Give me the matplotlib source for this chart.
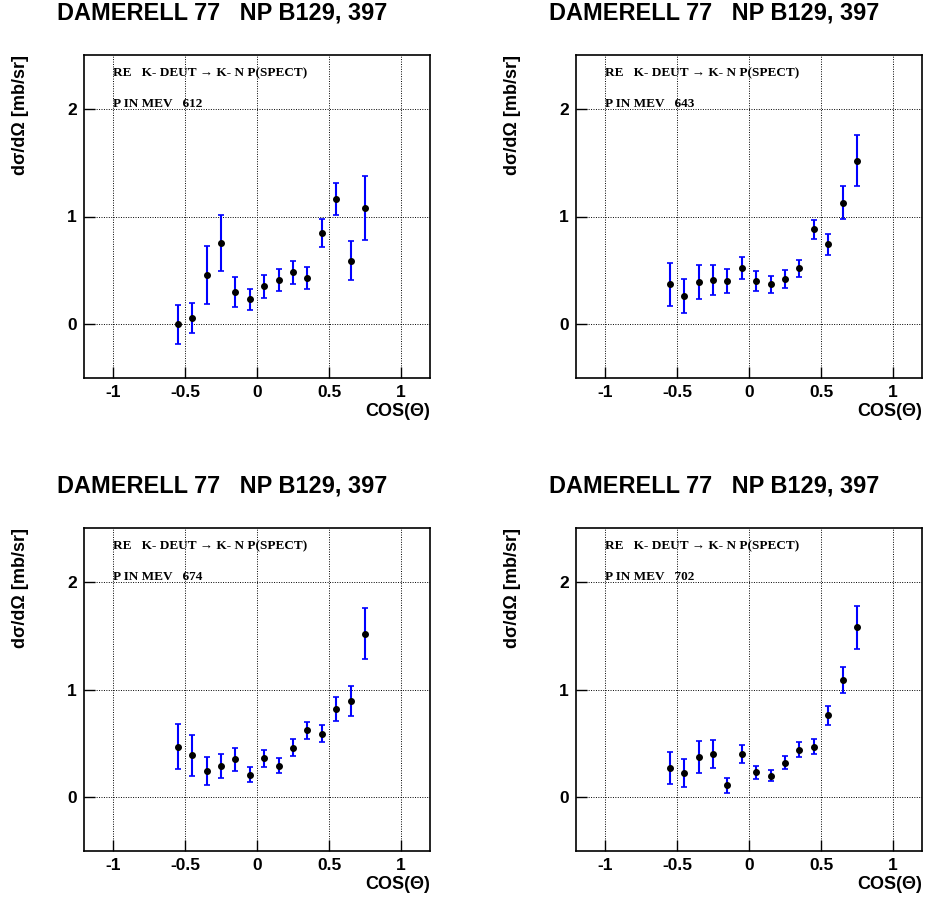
import numpy as np
import matplotlib.pyplot as plt

# cos(theta) bin centres
cos_th = [-0.55, -0.45, -0.35, -0.25, -0.15, -0.05, 0.05, 0.15, 0.25, 0.35, 0.45, 0.55, 0.65, 0.75]

# beam momenta (MeV) and d(sigma)/d(Omega) [mb/sr] with errors
p_mev = [612, 643, 674, 702]

ds_612 = [0.00, 0.06, 0.46, 0.75, 0.30, 0.23, 0.35, 0.41, 0.48, 0.43, 0.85, 1.16, 0.59, 1.08]
er_612 = [0.18, 0.14, 0.27, 0.26, 0.14, 0.10, 0.11, 0.10, 0.11, 0.10, 0.13, 0.15, 0.18, 0.30]

ds_643 = [0.37, 0.26, 0.39, 0.41, 0.40, 0.52, 0.40, 0.37, 0.42, 0.52, 0.88, 0.74, 1.13, 1.52]
er_643 = [0.20, 0.16, 0.16, 0.14, 0.11, 0.10, 0.09, 0.08, 0.08, 0.08, 0.09, 0.10, 0.15, 0.24]

ds_674 = [0.47, 0.39, 0.24, 0.29, 0.35, 0.21, 0.36, 0.29, 0.46, 0.62, 0.59, 0.82, 0.89, 1.52]
er_674 = [0.21, 0.19, 0.13, 0.11, 0.11, 0.07, 0.08, 0.07, 0.08, 0.08, 0.08, 0.11, 0.14, 0.24]

ds_702 = [0.27, 0.22, 0.37, 0.40, 0.11, 0.40, 0.23, 0.20, 0.32, 0.44, 0.47, 0.76, 1.09, 1.58]
er_702 = [0.15, 0.13, 0.15, 0.13, 0.07, 0.08, 0.06, 0.05, 0.06, 0.07, 0.07, 0.09, 0.12, 0.20]

values = [ds_612, ds_643, ds_674, ds_702]
errors = [er_612, er_643, er_674, er_702]

W, H = 927, 898
fig = plt.figure(figsize=(W / 100, H / 100), dpi=100)
sans = ['Liberation Sans', 'DejaVu Sans']
serif = ['Liberation Serif', 'DejaVu Serif']

# panel pixel boxes (left, top)
boxes = [(84, 55), (576, 55), (84, 528), (576, 528)]
aw, ah = 346, 323

for i in range(4):
    l, t = boxes[i]
    ax = fig.add_axes([l / W, 1 - (t + ah) / H, aw / W, ah / H])
    ax.errorbar(cos_th, values[i], yerr=errors[i], fmt='o', color='k', ms=4,
                ecolor='blue', elinewidth=1.5, capsize=2.5, capthick=1.2, zorder=3)
    ax.set_xlim(-1.2, 1.2)
    ax.set_ylim(-0.5, 2.5)
    ax.set_xticks([-1, -0.5, 0, 0.5, 1])
    ax.set_xticklabels(['-1', '-0.5', '0', '0.5', '1'])
    ax.set_yticks([0, 1, 2])
    ax.grid(True, color='k', linestyle=(0, (1, 1.5)), linewidth=0.7)
    ax.tick_params(direction='in', length=8, width=1, pad=5, top=False, right=False)
    for lab in ax.get_xticklabels() + ax.get_yticklabels():
        lab.set_family(sans)
        lab.set_fontweight('bold')
        lab.set_fontsize(12.5)
    for s in ax.spines.values():
        s.set_linewidth(1.2)
    ax.text(0.085, 0.944, 'RE   K- DEUT \u2192 K- N P(SPECT)', transform=ax.transAxes,
            family=serif, fontweight='bold', fontsize=9.5, va='center', ha='left')
    ax.text(0.085, 0.83, 'P IN MEV   %d' % p_mev[i], transform=ax.transAxes,
            family=serif, fontweight='bold', fontsize=9.5, va='bottom', ha='left')
    ax.set_ylabel('d\u03c3/d\u03a9 [mb/sr]', family=sans, fontweight='bold',
                  fontsize=13, loc='top')
    ax.yaxis.set_label_coords(-0.16, 1.0)
    ax.text(1.0, -0.105, 'COS(\u0398)', transform=ax.transAxes, family=sans,
            fontweight='bold', fontsize=13, ha='right', va='center')
    fig.text((l - 27) / W, 1 - (t - 42) / H, 'DAMERELL 77   NP B129, 397', family=sans,
             fontweight='bold', fontsize=16.9, ha='left', va='center')

fig.savefig('out.png', dpi=100)
